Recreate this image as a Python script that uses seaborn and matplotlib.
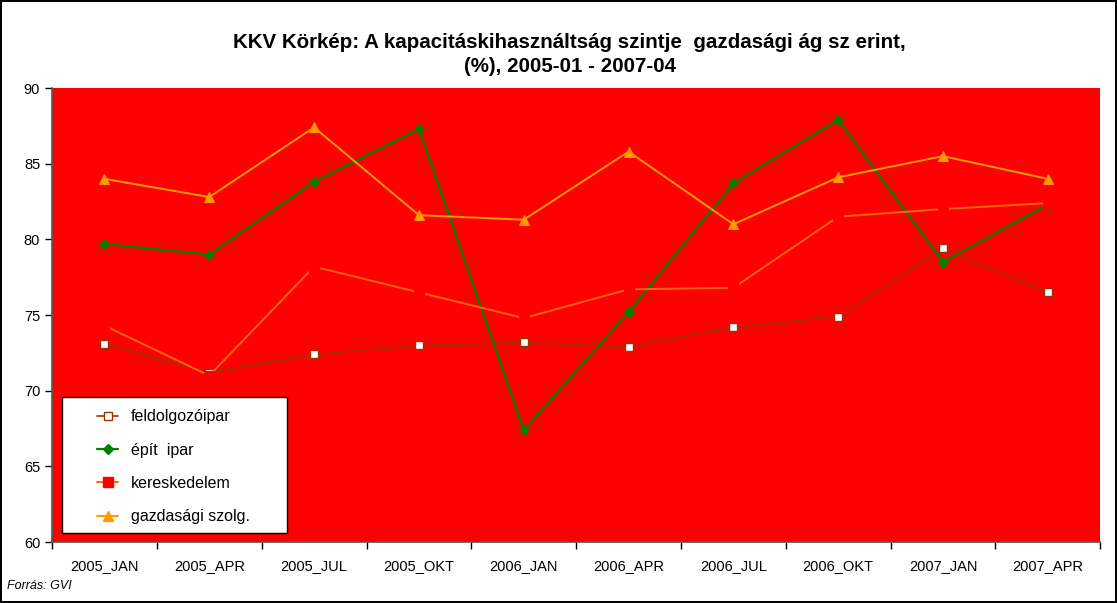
import pandas as pd
import seaborn as sns
import matplotlib.pyplot as plt
from matplotlib.lines import Line2D
from matplotlib.patches import Rectangle

months = ["2005_JAN", "2005_APR", "2005_JUL", "2005_OKT", "2006_JAN",
          "2006_APR", "2006_JUL", "2006_OKT", "2007_JAN", "2007_APR"]
feldolgozoipar = [73.1, 71.2, 72.4, 73.0, 73.2, 72.9, 74.2, 74.9, 79.4, 76.5]
epitoipar = [79.7, 79.0, 83.8, 87.3, 67.4, 75.2, 83.7, 87.9, 78.5, 82.3]
kereskedelem = [74.3, 71.0, 78.2, 76.5, 74.8, 76.7, 76.8, 81.5, 82.0, 82.4]
gazd_szolg = [84.0, 82.8, 87.4, 81.6, 81.3, 85.8, 81.0, 84.1, 85.5, 84.0]
labels = ["feldolgozóipar", "épít  ipar", "kereskedelem", "gazdasági szolg."]

sns.set_style("white")
plt.rcParams['font.family'] = ['Liberation Sans', 'DejaVu Sans']
plt.rcParams['text.color'] = 'black'
plt.rcParams['xtick.color'] = 'black'
plt.rcParams['ytick.color'] = 'black'

fig = plt.figure(figsize=(11.17, 6.03), dpi=100)
fig.patch.set_edgecolor("black")
fig.patch.set_linewidth(1.5)
ax = fig.add_axes([0.0466, 0.101, 0.9384, 0.753])
ax.set_facecolor("#FF0000")

x = list(range(len(months)))
df = pd.DataFrame({"x": x, "f": feldolgozoipar, "e": epitoipar,
                   "k": kereskedelem, "g": gazd_szolg})

styles = [
    ("f", dict(color="#993300", marker="s", markersize=5.5, markerfacecolor="white",
               markeredgecolor="#993300", markeredgewidth=1.0, linewidth=1.2)),
    ("e", dict(color="#008000", marker="D", markersize=5, markerfacecolor="#008000",
               markeredgecolor="#008000", linewidth=1.6)),
    ("k", dict(color="#FF6600", marker="s", markersize=7, markerfacecolor="#FF0000",
               markeredgecolor="#FF0000", linewidth=1.4)),
    ("g", dict(color="#FF9900", marker="^", markersize=7, markerfacecolor="#FF9900",
               markeredgecolor="#FF9900", linewidth=1.4)),
]
for col, st in styles:
    sns.lineplot(data=df, x="x", y=col, ax=ax, **st)

ax.set_xlim(-0.5, len(months) - 0.5)
ax.set_ylim(60, 90)
ax.set_yticks(range(60, 91, 5))
ax.set_xticks(x)
ax.set_xticklabels(months, fontsize=10.5)
ax.set_xticks([i - 0.5 for i in range(len(months) + 1)], minor=True)
ax.tick_params(axis="x", which="major", bottom=True, length=0, pad=12)
ax.tick_params(axis="x", which="minor", bottom=True, length=5, width=1, color="black", direction="out")
ax.tick_params(axis="y", left=True, length=5, width=1, color="black", direction="out", labelsize=10.5)
ax.set_xlabel("")
ax.set_ylabel("")
for side in ["top", "right"]:
    ax.spines[side].set_visible(False)
for side in ["left", "bottom"]:
    ax.spines[side].set_color("#555555")
    ax.spines[side].set_linewidth(1.2)

# legend box
ax.add_patch(Rectangle((0.0095, 0.0198), 0.2145, 0.299, transform=ax.transAxes,
                       facecolor="white", edgecolor="black", linewidth=1.0, zorder=5))
handles = [Line2D([], [], **st) for _, st in styles]
leg = ax.legend(handles, labels, loc="center left", bbox_to_anchor=(0.043, 0.166),
                fontsize=11.5, frameon=False, labelspacing=1.15, handlelength=1.3,
                handletextpad=0.8, borderpad=0, borderaxespad=0)
leg.set_zorder(6)

fig.text(0.51, 0.91, "KKV Körkép: A kapacitáskihasználtság szintje  gazdasági ág sz erint,\n(%), 2005-01 - 2007-04",
         ha="center", va="center", fontsize=14.8, fontweight="bold", linespacing=1.35)
fig.text(0.006, 0.018, "Forrás: GVI", fontsize=9, style="italic", ha="left", va="bottom")

fig.savefig("out.png", dpi=100, edgecolor=fig.get_edgecolor())
